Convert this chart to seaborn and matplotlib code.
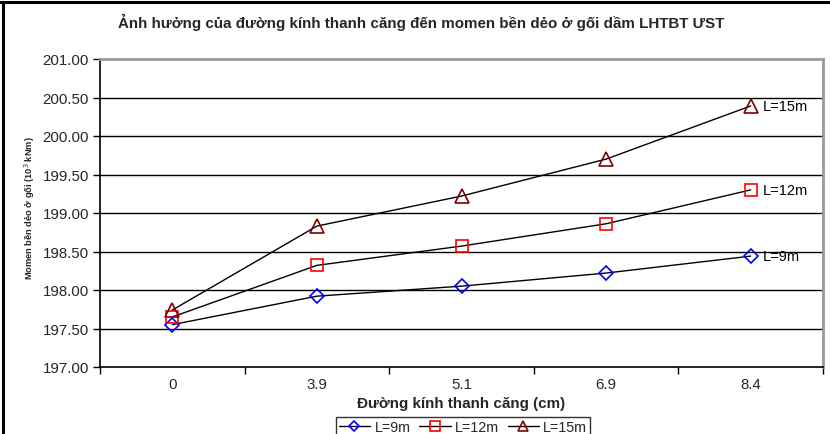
import matplotlib
matplotlib.use("Agg")
import matplotlib.pyplot as plt
from matplotlib.lines import Line2D
from matplotlib.ticker import FixedLocator, NullFormatter
import seaborn as sns
import pandas as pd

# Data: plastic moment at support vs tension-rod diameter
categories = ["0", "3.9", "5.1", "6.9", "8.4"]
l9 = [197.55, 197.92, 198.05, 198.22, 198.44]
l12 = [197.65, 198.32, 198.57, 198.86, 199.30]
l15 = [197.74, 198.83, 199.22, 199.70, 200.39]
series_names = ["L=9m", "L=12m", "L=15m"]
y_ticks = [197.0, 197.5, 198.0, 198.5, 199.0, 199.5, 200.0, 200.5, 201.0]

sns.set_theme(style="white")
plt.rcParams["font.family"] = ["Liberation Sans", "DejaVu Sans"]

fig = plt.figure(figsize=(8.3, 4.35), dpi=100)
W, H = 830, 435
ax = fig.add_axes([100 / W, 1 - 368 / H, (823 - 100) / W, (368 - 60) / H])

styles = [
    dict(marker="D", mec="#0000FF", ms=7),
    dict(marker="s", mec="#FF0000", ms=9),
    dict(marker="^", mec="#800000", ms=9.5),
]

frames = []
for name, vals in zip(series_names, [l9, l12, l15]):
    frames.append(pd.DataFrame({"d": categories, "M": vals, "series": name}))
df = pd.concat(frames, ignore_index=True)

handles = []
for name, st in zip(series_names, styles):
    sub = df[df["series"] == name]
    sns.lineplot(data=sub, x="d", y="M", ax=ax, color="black", lw=1.0,
                 marker=st["marker"], markersize=st["ms"],
                 markerfacecolor="none", markeredgecolor=st["mec"],
                 markeredgewidth=1.2, sort=False, legend=False)
    handles.append(Line2D([], [], color="black", lw=1.0, marker=st["marker"],
                          markersize=st["ms"] * 0.8, markerfacecolor="none",
                          markeredgecolor=st["mec"], markeredgewidth=1.2))
    last = sub["M"].iloc[-1]
    ax.annotate(name, xy=(len(categories) - 1, last), xytext=(9, 0),
                textcoords="offset points", va="center", ha="left",
                fontsize=10.5, color="black")

ax.set_xlim(-0.5, len(categories) - 0.5)
ax.set_ylim(197.0, 201.0)
ax.set_yticks(y_ticks)
ax.set_yticklabels([f"{v:.2f}" for v in y_ticks], fontsize=10.8)
ax.set_xticks(range(len(categories)))
ax.set_xticklabels(categories, fontsize=10.8)
ax.xaxis.set_minor_locator(FixedLocator([i - 0.5 for i in range(len(categories) + 1)]))
ax.xaxis.set_minor_formatter(NullFormatter())
ax.tick_params(axis="x", which="major", length=0, pad=7)
ax.tick_params(axis="x", which="minor", length=5, width=1, color="black", direction="out", bottom=True)
ax.tick_params(axis="y", which="major", length=5, width=1, color="black", direction="out", left=True, pad=3)

for v in y_ticks[1:-1]:
    ax.axhline(v, color="black", lw=1.0, zorder=0)

for side in ["left", "bottom"]:
    ax.spines[side].set_color("black")
    ax.spines[side].set_linewidth(1.2)
for side in ["top", "right"]:
    ax.spines[side].set_color("#999999")
    ax.spines[side].set_linewidth(2.0)

ax.set_xlabel("Đường kính thanh căng (cm)", fontsize=10.9, fontweight="bold", labelpad=4)
ax.set_ylabel("")
fig.text(30 / W, 1 - 208 / H, "Momen bền dẻo ở gối (10$^3$ kNm)", rotation=90,
         ha="center", va="center", fontsize=6.7, fontweight="bold")

fig.text(421 / W, 1 - 22 / H,
         "Ảnh hưởng của đường kính thanh căng đến momen bền dẻo ở gối dầm LHTBT ƯST",
         ha="center", va="center", fontsize=10.9, fontweight="bold")

leg = fig.legend(handles, series_names, loc="upper center",
                 bbox_to_anchor=(463 / W, 1 - 418 / H), ncol=3, fontsize=10.3,
                 frameon=True, fancybox=False, edgecolor="black",
                 handlelength=2.2, handletextpad=0.3, columnspacing=0.6,
                 borderpad=0.2, borderaxespad=0)
leg.get_frame().set_linewidth(1.0)

# chart border along top and left edges
fig.add_artist(Line2D([0, 1], [1 - 2.5 / H, 1 - 2.5 / H], color="black", lw=2.2, transform=fig.transFigure))
fig.add_artist(Line2D([3 / W, 3 / W], [0, 1 - 2.5 / H], color="black", lw=2.2, transform=fig.transFigure))

fig.savefig("out.png", dpi=100)
